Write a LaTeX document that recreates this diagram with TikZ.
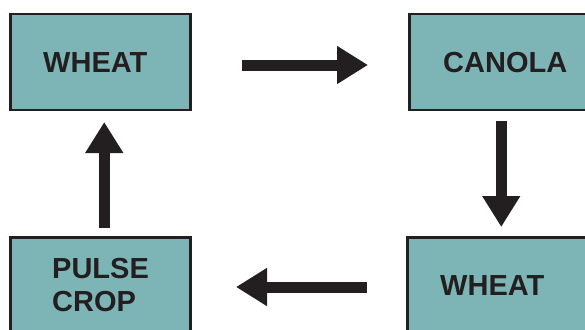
\documentclass[tikz,border=0pt]{standalone}
\usepackage{fontspec}
\setmainfont{Liberation Sans}
\usetikzlibrary{arrows.meta}
\definecolor{boxfill}{HTML}{7DB5B6}
\definecolor{ink}{HTML}{231F20}
\tikzset{
  box/.style={draw=ink, fill=boxfill, line width=2.5pt, minimum width=180pt, minimum height=95.5pt, inner sep=0pt},
  lbl/.style={font=\bfseries\fontsize{29}{33}\selectfont, text=ink, inner sep=0pt, anchor=west, align=left},
  flow/.style={draw=ink, line width=11pt, -{Triangle[length=31pt,width=36pt]}}
}
\begin{document}
\begin{tikzpicture}[x=1pt,y=-1pt]
\useasboundingbox (0,0) rectangle (585,329);
\clip (0,0) rectangle (585,329);
\node[box] (w1) at (100.25,62) {};
\node[box] (c) at (499.25,62) {};
\node[box] (w2) at (497.25,285) {};
\node[box] (p) at (100.25,285) {};
\node[lbl] (tw1) at (43,62.5) {WHEAT};
\node[lbl] (tc) at (443,62.5) {CANOLA};
\node[lbl] (tw2) at (440,286) {WHEAT};
\node[lbl] (tp) at (52,285.5) {PULSE\\CROP};
\draw[flow, shorten <=50.5pt, shorten >=40pt] ([yshift=-3pt]w1.east) -- ([yshift=-3pt]c.west);
\draw[flow, shorten <=10pt, shorten >=9pt] ([xshift=2pt]c.south) -- ([xshift=4pt]w2.north);
\draw[flow, shorten <=39pt, shorten >=44.5pt] ([yshift=-2pt]w2.west) -- ([yshift=-2pt]p.east);
\draw[flow, shorten <=8pt, shorten >=11pt] ([xshift=4pt]p.north) -- ([xshift=4pt]w1.south);
\end{tikzpicture}
\end{document}
